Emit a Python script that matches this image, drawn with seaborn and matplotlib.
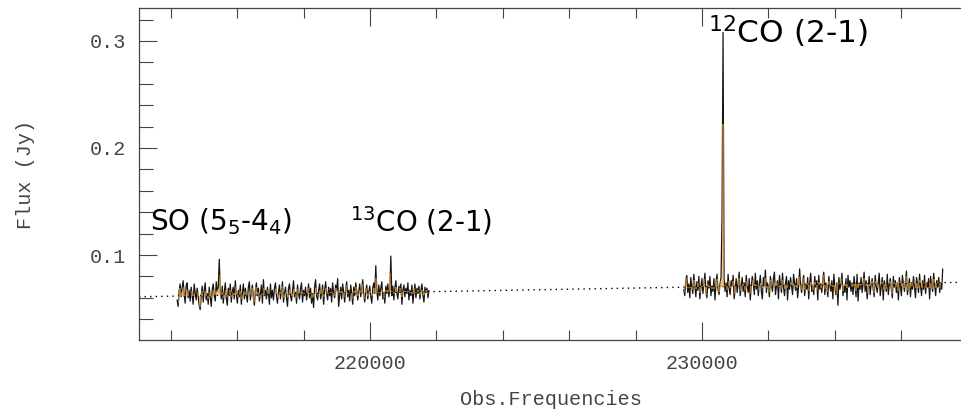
import numpy as np
import pandas as pd
import matplotlib
matplotlib.use("Agg")
import matplotlib.pyplot as plt
from matplotlib.ticker import MultipleLocator
import seaborn as sns

# --- spectral windows (observed frequency range of each window, MHz) ---
win1_range = [214190, 221776]
win2_range = [229450, 237250]

# --- flux density per channel (Jy) ---
win1_flux = [
    0.058, 0.052, 0.066, 0.073, 0.061, 0.069, 0.076, 0.064, 0.055, 0.071, 0.074, 0.060,
    0.067, 0.057, 0.070, 0.062, 0.054, 0.073, 0.065, 0.058, 0.069, 0.061, 0.053, 0.049,
    0.062, 0.071, 0.056, 0.067, 0.074, 0.058, 0.064, 0.054, 0.070, 0.061, 0.052, 0.068,
    0.073, 0.062, 0.057, 0.075, 0.066, 0.070, 0.096, 0.067, 0.059, 0.071, 0.055, 0.064,
    0.074, 0.060, 0.053, 0.069, 0.062, 0.073, 0.056, 0.066, 0.070, 0.059, 0.076, 0.064,
    0.055, 0.067, 0.061, 0.072, 0.054, 0.064, 0.073, 0.059, 0.069, 0.062, 0.056, 0.070,
    0.075, 0.058, 0.066, 0.072, 0.060, 0.053, 0.067, 0.074, 0.062, 0.069, 0.057, 0.064,
    0.072, 0.055, 0.077, 0.062, 0.067, 0.059, 0.070, 0.064, 0.054, 0.073, 0.060, 0.067,
    0.058, 0.069, 0.074, 0.062, 0.055, 0.065, 0.072, 0.059, 0.067, 0.075, 0.056, 0.064,
    0.070, 0.060, 0.052, 0.069, 0.073, 0.062, 0.057, 0.067, 0.076, 0.061, 0.065, 0.055,
    0.072, 0.064, 0.059, 0.069, 0.074, 0.056, 0.067, 0.062, 0.070, 0.058, 0.065, 0.073,
    0.060, 0.069, 0.055, 0.064, 0.051, 0.070, 0.077, 0.062, 0.058, 0.067, 0.073, 0.059,
    0.065, 0.072, 0.054, 0.067, 0.075, 0.064, 0.058, 0.070, 0.062, 0.069, 0.056, 0.074,
    0.064, 0.060, 0.072, 0.067, 0.078, 0.052, 0.062, 0.070, 0.059, 0.073, 0.065, 0.056,
    0.069, 0.075, 0.061, 0.067, 0.057, 0.072, 0.064, 0.054, 0.070, 0.062, 0.074, 0.067,
    0.058, 0.065, 0.073, 0.061, 0.069, 0.077, 0.062, 0.056, 0.067, 0.072, 0.059, 0.065,
    0.071, 0.061, 0.055, 0.069, 0.074, 0.064, 0.090, 0.067, 0.058, 0.072, 0.062, 0.069,
    0.075, 0.059, 0.065, 0.055, 0.071, 0.064, 0.073, 0.061, 0.067, 0.099, 0.062, 0.071,
    0.058, 0.069, 0.076, 0.064, 0.059, 0.071, 0.065, 0.073, 0.054, 0.067, 0.072, 0.061,
    0.069, 0.064, 0.074, 0.058, 0.067, 0.062, 0.072, 0.055, 0.065, 0.073, 0.060, 0.069,
    0.064, 0.071, 0.059, 0.067, 0.073, 0.062, 0.056, 0.070, 0.065, 0.069, 0.060, 0.067,
]
win2_flux = [
    0.068, 0.062, 0.076, 0.081, 0.065, 0.073, 0.060, 0.079, 0.070, 0.064, 0.082, 0.071,
    0.061, 0.075, 0.067, 0.080, 0.059, 0.070, 0.078, 0.064, 0.073, 0.083, 0.066, 0.060,
    0.076, 0.069, 0.080, 0.062, 0.071, 0.066, 0.078, 0.058, 0.074, 0.082, 0.068, 0.063,
    0.073, 0.079, 0.137, 0.308, 0.078, 0.066, 0.074, 0.061, 0.082, 0.069, 0.063, 0.076,
    0.071, 0.081, 0.059, 0.068, 0.078, 0.065, 0.073, 0.084, 0.062, 0.070, 0.079, 0.066,
    0.074, 0.061, 0.081, 0.071, 0.065, 0.078, 0.058, 0.070, 0.080, 0.074, 0.063, 0.083,
    0.068, 0.076, 0.062, 0.073, 0.081, 0.066, 0.059, 0.079, 0.071, 0.086, 0.065, 0.074,
    0.070, 0.061, 0.080, 0.073, 0.066, 0.078, 0.084, 0.063, 0.071, 0.076, 0.059, 0.081,
    0.072, 0.065, 0.083, 0.070, 0.062, 0.074, 0.080, 0.058, 0.076, 0.068, 0.079, 0.071,
    0.063, 0.082, 0.074, 0.067, 0.078, 0.060, 0.071, 0.087, 0.070, 0.065, 0.076, 0.081,
    0.062, 0.073, 0.068, 0.079, 0.059, 0.074, 0.083, 0.066, 0.071, 0.063, 0.080, 0.070,
    0.076, 0.058, 0.081, 0.068, 0.073, 0.065, 0.078, 0.084, 0.063, 0.074, 0.070, 0.061,
    0.080, 0.071, 0.066, 0.076, 0.059, 0.082, 0.070, 0.063, 0.074, 0.053, 0.079, 0.068,
    0.073, 0.083, 0.062, 0.071, 0.065, 0.078, 0.058, 0.081, 0.070, 0.076, 0.066, 0.074,
    0.063, 0.080, 0.071, 0.061, 0.082, 0.057, 0.074, 0.068, 0.079, 0.065, 0.073, 0.084,
    0.066, 0.076, 0.059, 0.070, 0.080, 0.063, 0.073, 0.078, 0.068, 0.061, 0.081, 0.071,
    0.065, 0.074, 0.083, 0.062, 0.070, 0.079, 0.058, 0.076, 0.071, 0.066, 0.082, 0.063,
    0.073, 0.078, 0.068, 0.060, 0.080, 0.070, 0.076, 0.065, 0.074, 0.058, 0.079, 0.071,
    0.062, 0.081, 0.073, 0.066, 0.076, 0.085, 0.063, 0.071, 0.078, 0.061, 0.074, 0.068,
    0.080, 0.070, 0.060, 0.079, 0.073, 0.065, 0.082, 0.071, 0.062, 0.076, 0.068, 0.081,
    0.064, 0.074, 0.070, 0.078, 0.059, 0.080, 0.071, 0.066, 0.083, 0.072, 0.062, 0.076,
    0.070, 0.079, 0.065, 0.074, 0.068, 0.087,
]

# --- continuum fit (two anchor points) ---
cont_freq = [213042, 237831]
cont_flux = [0.0610, 0.0745]

# --- line identifications: label, frequency of label start, baseline flux ---
line_labels = ["SO (5$_5$-4$_4$)", "$^{13}$CO (2-1)", "$^{12}$CO (2-1)"]
line_label_freq = [213378, 219398, 230174]
line_label_flux = [0.1234, 0.1224, 0.2980]
line_label_size = [20, 20, 22.5]

xlim = (213042, 237831)
ylim = (0.0206, 0.3308)

orange = "#e8992c"
ink = "#161616"
grey = "#444444"

sns.set_theme(style="ticks")
plt.rcParams["font.family"] = ["DejaVu Sans"]

fig = plt.figure(figsize=(9.62, 4.15), dpi=100)
ax = fig.add_axes([139 / 962, 75 / 415, 1 - 139 / 962, 332 / 415])


def channels(rng, flux):
    return np.linspace(rng[0], rng[1], len(flux))


def binned(freq, flux):
    n = len(flux) // 2 * 2
    f = np.asarray(freq[:n]).reshape(-1, 2).mean(axis=1)
    v = np.asarray(flux[:n]).reshape(-1, 2).mean(axis=1)
    return f, v


frames = []
for name, rng, flux in [("w1", win1_range, win1_flux), ("w2", win2_range, win2_flux)]:
    f = channels(rng, flux)
    frames.append(pd.DataFrame({"freq": f, "flux": flux, "win": name}))
    # two-channel smoothed spectrum, filled against the continuum
    bf, bv = binned(f, flux)
    ax.fill_between(bf, np.interp(bf, cont_freq, cont_flux), bv,
                    step="mid", color=orange, alpha=0.6, lw=0, zorder=4)

spec = pd.concat(frames, ignore_index=True)

# continuum
sns.lineplot(x=cont_freq, y=cont_flux, ax=ax, color="black",
             lw=1.0, ls=(0, (1, 3)), zorder=1)

# channel spectra
for name, grp in spec.groupby("win"):
    sns.lineplot(data=grp, x="freq", y="flux", ax=ax, color=ink, lw=0.9,
                 estimator=None, sort=True, zorder=3)

for lab, fx, fy, fs in zip(line_labels, line_label_freq, line_label_flux,
                           line_label_size):
    ax.text(fx, fy, lab, fontsize=fs, color="black", ha="left",
            va="baseline", zorder=5)

ax.set_xlim(*xlim)
ax.set_ylim(*ylim)

ax.xaxis.set_major_locator(MultipleLocator(10000))
ax.xaxis.set_minor_locator(MultipleLocator(2000))
ax.yaxis.set_major_locator(MultipleLocator(0.1))
ax.yaxis.set_minor_locator(MultipleLocator(0.02))

tick_font = dict(family="Liberation Mono", size=14.5)
ax.tick_params(axis="both", which="both", direction="in", colors=grey,
               labelcolor=grey, width=0.8, top=True, right=False)
ax.tick_params(axis="x", which="major", length=13, pad=10)
ax.tick_params(axis="x", which="minor", length=7)
ax.tick_params(axis="y", which="major", length=13, pad=9)
ax.tick_params(axis="y", which="minor", length=10)
ax.set_xticks([220000, 230000])
ax.set_xticklabels(["220000", "230000"], fontdict=tick_font)
ax.set_yticks([0.1, 0.2, 0.3])
ax.set_yticklabels(["0.1", "0.2", "0.3"], fontdict=tick_font)

ax.set_xlabel("Obs.Frequencies", fontdict=tick_font, color=grey, labelpad=12)
ax.set_ylabel("Flux (Jy)", fontdict=tick_font, color=grey, labelpad=40)

for side in ["left", "bottom", "top"]:
    ax.spines[side].set_color(grey)
    ax.spines[side].set_linewidth(0.9)
ax.spines["right"].set_visible(False)

fig.savefig("out.png", dpi=100)
